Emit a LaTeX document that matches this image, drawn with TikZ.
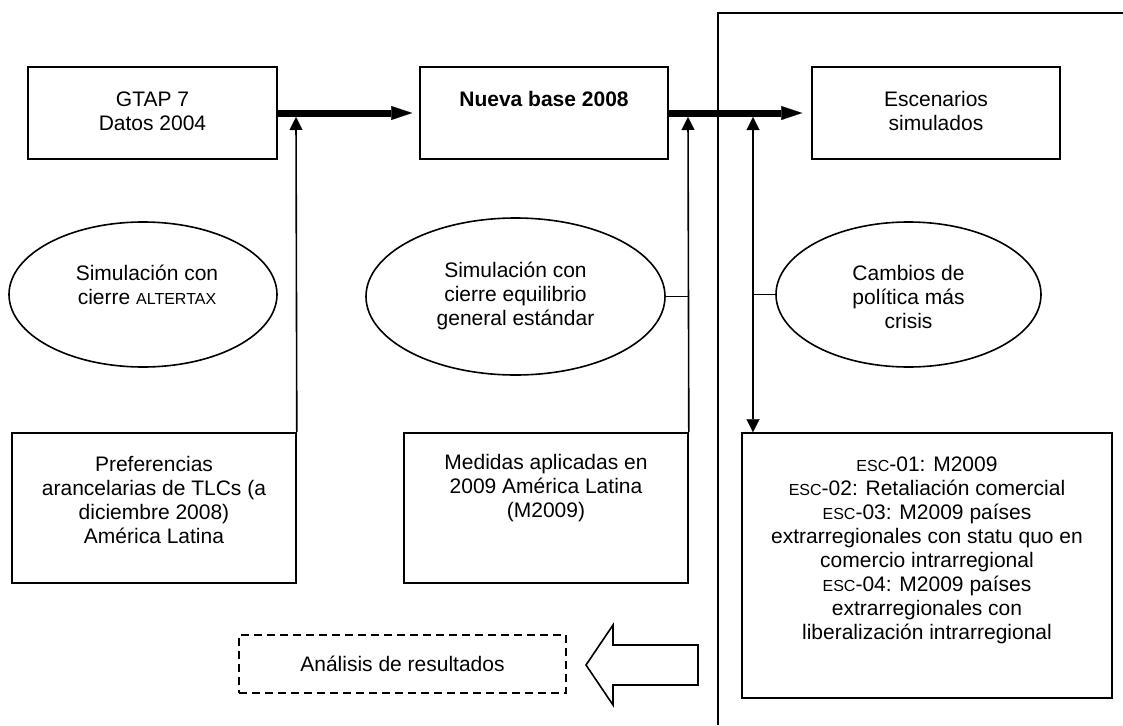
\documentclass[tikz,border=0pt]{standalone}
\usepackage{fontspec}
\setmainfont{Liberation Sans}
\usetikzlibrary{arrows.meta,shapes.geometric}
\newcommand{\smcp}[1]{{\fontsize{16}{24}\selectfont #1}}
\tikzset{
  ln/.style={line width=1.6pt},
  box/.style={ln, draw, rectangle, inner sep=0pt},
  ell/.style={ln, draw, ellipse, inner sep=0pt},
  txt/.style={align=center, inner sep=0pt, font=\fontsize{21}{24}\selectfont},
  bigarrow/.style={line width=7pt, -{Triangle[length=21pt,width=14pt,line width=0.1pt]}},
  thinarrow/.style={ln, -{Triangle[length=13pt,width=13pt,line width=0.1pt]}},
  dblarrow/.style={ln, {Triangle[length=13pt,width=13pt,line width=0.1pt]}-{Triangle[length=13pt,width=13pt,line width=0.1pt]}}
}
\begin{document}
\begin{tikzpicture}[x=1pt,y=-1pt]
\useasboundingbox (0,0) rectangle (1123,725);
% frame
\draw[ln] (718,725) -- (718,13) -- (1123,13);
% boxes
\node[box, minimum width=249pt, minimum height=92pt] (gtap) at (152.5,113) {};
\node[box, minimum width=248pt, minimum height=92pt] (nueva) at (544,113) {};
\node[box, minimum width=248pt, minimum height=92pt] (esc) at (936,113) {};
\node[ell, minimum width=268pt, minimum height=145pt] (ell1) at (143,294.5) {};
\node[ell, minimum width=299pt, minimum height=157pt] (ell2) at (515.5,296.5) {};
\node[ell, minimum width=265pt, minimum height=145pt] (ell3) at (908.5,294.5) {};
\node[box, minimum width=284pt, minimum height=150pt] (pref) at (154,508) {};
\node[box, minimum width=284pt, minimum height=150pt] (med) at (546,508) {};
\node[box, minimum width=370pt, minimum height=265pt] (escbox) at (927,565.5) {};
\node[box, dash pattern=on 8pt off 5pt, minimum width=327pt, minimum height=58pt] (anal) at (402.5,664) {};
% texts
\node[txt] (gtapT) at (152.5,111) {GTAP 7\\Datos 2004};
\node[txt, font=\fontsize{21}{24}\selectfont\bfseries] (nuevaT) at (544,99) {Nueva base 2008};
\node[txt] (escT) at (936,111) {Escenarios\\simulados};
\node[txt] (ell1T) at (147,284.5) {Simulación con\\cierre \smcp{ALTERTAX}};
\node[txt] (ell2T) at (515.5,296) {Simulación con\\cierre equilibrio\\general estándar};
\node[txt] (ell3T) at (908.5,297) {Cambios de\\política más\\crisis};
\node[txt] (prefT) at (154,500) {Preferencias\\arancelarias de TLCs (a\\diciembre 2008)\\América Latina};
\node[txt] (medT) at (546,488) {Medidas aplicadas en\\2009 América Latina\\(M2009)};
\node[txt] (escboxT) at (927,550.5) {\smcp{ESC}-01: M2009\\\smcp{ESC}-02: Retaliación comercial\\\smcp{ESC}-03: M2009 países\\extrarregionales con statu quo en\\comercio intrarregional\\\smcp{ESC}-04: M2009 países\\extrarregionales con\\liberalización intrarregional};
\node[txt] (analT) at (402.5,664) {Análisis de resultados};
% thick arrows
\draw[bigarrow, shorten >=7pt] (gtap.east) -- (nueva.west);
\draw[bigarrow, shorten >=9pt] (nueva.east) -- (esc.west);
% thin arrows
\coordinate (a1) at (296,117);
\coordinate (a2) at (688,117);
\coordinate (a3) at (753,117);
\draw[thinarrow] (pref.north east) -- (a1);
\draw[thinarrow] (med.north east) -- (a2);
\draw[dblarrow] (a3) -- (a3 |- escbox.north);
\draw[ln] (ell2.east) -- (ell2.east -| a2);
\draw[ln] (ell3.west) -- (ell3.west -| a3);
% open block arrow
\draw[ln, line join=miter] (698,645) -- (613,645) -- (613,625) -- (586,665) -- (613,705) -- (613,685) -- (698,685) -- cycle;
\end{tikzpicture}
\end{document}
